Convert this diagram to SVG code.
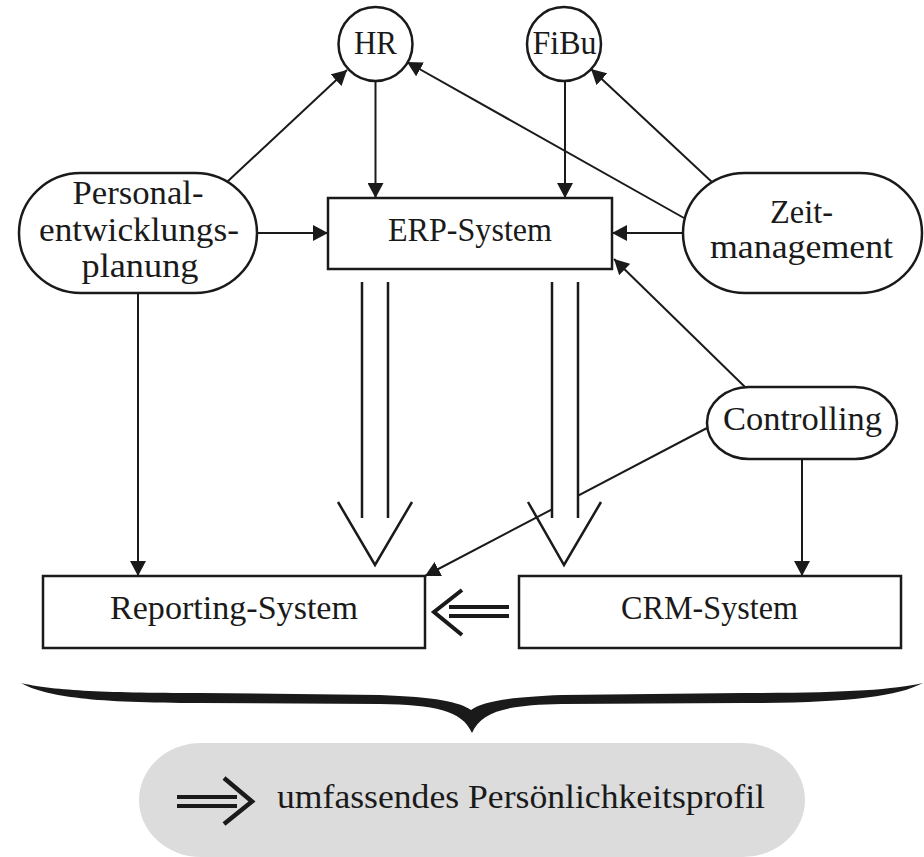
<svg xmlns="http://www.w3.org/2000/svg" width="924" height="857" viewBox="0 0 924 857">
<defs>
<marker id="ah" viewBox="0 0 15 16" refX="15" refY="8" markerWidth="15" markerHeight="16" markerUnits="userSpaceOnUse" orient="auto">
<path d="M0,0 L15,8 L0,16 Z" fill="#1a1a1a"/>
</marker>
<style>
.node{fill:#fff;stroke:#1a1a1a;stroke-width:2.5}
.t{font-family:"Liberation Serif","DejaVu Serif",serif;font-size:33px;fill:#1a1a1a;text-anchor:middle}
.c{stroke:#1a1a1a;stroke-width:2;fill:none}
.ca{stroke:#1a1a1a;stroke-width:2;fill:none;marker-end:url(#ah)}
.dbl{stroke:#1a1a1a;stroke-width:2.5;fill:none}
</style>
</defs>
<rect x="0" y="0" width="924" height="857" fill="#fff"/>

<g id="connectors">
<path class="ca" d="M375.5,81 L375.5,198"/>
<path class="ca" d="M565,81 L565,198"/>
<path class="ca" d="M257,233 L328,233"/>
<path class="ca" d="M683,233 L612,233"/>
<path class="ca" d="M227,182 L347,70"/>
<path class="ca" d="M684,218 L407,62"/>
<path class="ca" d="M713,183 L591,69"/>
<path class="ca" d="M745,387 L614,259"/>
<path class="ca" d="M802,459 L802,576"/>
<path class="ca" d="M707,428 L425,576"/>
<path class="ca" d="M138,293 L138,576"/>
</g>

<g id="flow-arrows">
<rect x="362" y="282" width="26" height="236" fill="#fff"/>
<path class="dbl" d="M362,282 L362,518 M388,282 L388,518 M338,502 L375,565 L412,502"/>
<rect x="552" y="282" width="26" height="236" fill="#fff"/>
<path class="dbl" d="M552,282 L552,518 M578,282 L578,518 M528,502 L564,565 L601,502"/>
<path d="M449,607 L509,607 M449,616 L509,616" stroke="#1a1a1a" stroke-width="4" fill="none"/>
<path d="M462,590 L434,612 L462,635" stroke="#1a1a1a" stroke-width="4" fill="none" stroke-linejoin="miter"/>
</g>

<g id="HR">
<circle class="node" cx="375.5" cy="44" r="37"/>
<text class="t" x="375.5" y="54" textLength="43" lengthAdjust="spacingAndGlyphs">HR</text>
</g>
<g id="FiBu">
<circle class="node" cx="564" cy="44" r="37"/>
<text class="t" x="564.5" y="54" textLength="64" lengthAdjust="spacingAndGlyphs">FiBu</text>
</g>
<g id="ERP">
<rect class="node" x="328" y="198" width="284" height="71"/>
<text class="t" x="470" y="241" textLength="164" lengthAdjust="spacingAndGlyphs">ERP-System</text>
</g>
<g id="Personal">
<rect class="node" x="19" y="173" width="238" height="120" rx="62" ry="60"/>
<text class="t" x="138" y="204" textLength="131" lengthAdjust="spacingAndGlyphs">Personal-</text>
<text class="t" x="139" y="241" textLength="200" lengthAdjust="spacingAndGlyphs">entwicklungs-</text>
<text class="t" x="140" y="277" textLength="117" lengthAdjust="spacingAndGlyphs">planung</text>
</g>
<g id="Zeit">
<rect class="node" x="683" y="173" width="239" height="120" rx="62" ry="60"/>
<text class="t" x="801.5" y="223" textLength="63" lengthAdjust="spacingAndGlyphs">Zeit-</text>
<text class="t" x="801.5" y="258" textLength="183" lengthAdjust="spacingAndGlyphs">management</text>
</g>
<g id="Controlling">
<rect class="node" x="707" y="387" width="190" height="72" rx="42" ry="36"/>
<text class="t" x="802.5" y="430" textLength="159" lengthAdjust="spacingAndGlyphs">Controlling</text>
</g>
<g id="Reporting">
<rect class="node" x="43" y="576" width="382" height="72"/>
<text class="t" x="234" y="619" textLength="248" lengthAdjust="spacingAndGlyphs">Reporting-System</text>
</g>
<g id="CRM">
<rect class="node" x="519" y="576" width="382" height="72"/>
<text class="t" x="709.5" y="619" textLength="177" lengthAdjust="spacingAndGlyphs">CRM-System</text>
</g>

<g id="brace">
<path fill="#1a1a1a" d="M21,683 C50,690 100,693 200,693 L380,695 C435,697 460,702 471,710 C482,702 507,697 562,695 L742,693 C842,693 892,690 923,683 C896,697 846,703 742,703 L562,704 C510,705 482,710 472,733 C462,710 434,705 380,704 L200,703 C96,703 46,697 21,683 Z"/>
</g>

<g id="result">
<rect x="139" y="743" width="666" height="114" rx="62" ry="57" fill="#dcdcdc"/>
<path d="M177,797 L237,797 M177,806 L237,806" stroke="#1a1a1a" stroke-width="4" fill="none"/>
<path d="M224,778 L252,801.5 L224,824" stroke="#1a1a1a" stroke-width="4.5" fill="none"/>
<text class="t" x="521" y="808" textLength="488" lengthAdjust="spacingAndGlyphs">umfassendes Persönlichkeitsprofil</text>
</g>
</svg>
